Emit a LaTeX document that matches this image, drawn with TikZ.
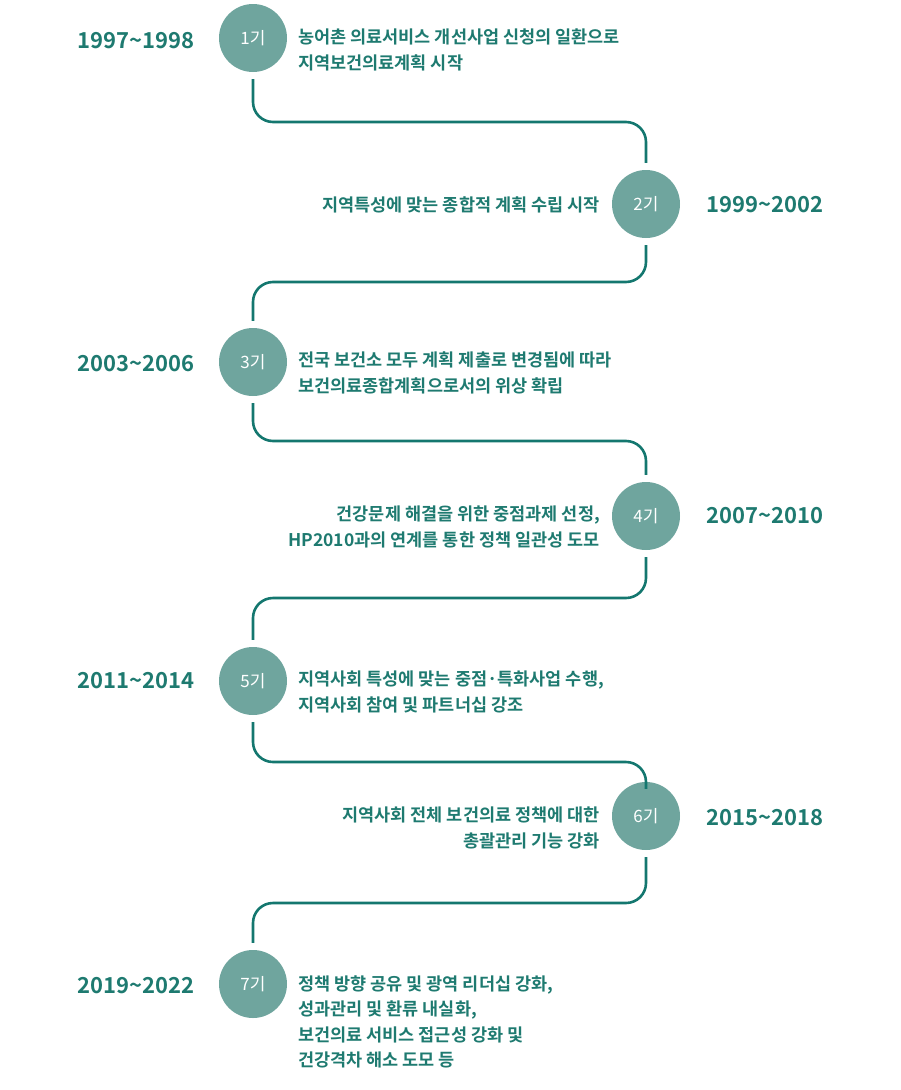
\documentclass[tikz,border=0pt]{standalone}
\usepackage{fontspec}
\setmainfont{Noto Sans CJK KR}[BoldFont={* Bold}]
\definecolor{circ}{HTML}{6FA59E}
\definecolor{ln}{HTML}{14776F}
\definecolor{tx}{HTML}{1E7A70}
\begin{document}
\begin{tikzpicture}[x=1pt,y=-1pt,
  stage/.style={circle,fill=circ,minimum size=68pt,inner sep=0pt,text=white,font=\fontsize{17}{17}\selectfont},
  year/.style={text=tx,font=\bfseries\fontsize{22}{22}\selectfont,inner sep=0pt},
  desc/.style={text=tx,font=\bfseries\fontsize{17.5}{25.5}\selectfont,inner sep=0pt,align=left},
  descr/.style={desc,align=right},
  conn/.style={draw=ln,line width=2.6pt,rounded corners=20pt,shorten >=7pt,shorten <=7pt}]
\useasboundingbox (0,0) rectangle (900,1090);
\node[stage] (s1) at (253,38) {1기};
\node[stage] (s2) at (646,204) {2기};
\node[stage] (s3) at (253,362) {3기};
\node[stage] (s4) at (646,516) {4기};
\node[stage] (s5) at (253,681) {5기};
\node[stage] (s6) at (646,816) {6기};
\node[stage] (s7) at (253,984) {7기};
\node[year,anchor=west] (y1) at (77,41) {1997\char`~1998};
\node[year,anchor=west] (y2) at (706,205) {1999\char`~2002};
\node[year,anchor=west] (y3) at (77,364) {2003\char`~2006};
\node[year,anchor=west] (y4) at (706,516) {2007\char`~2010};
\node[year,anchor=west] (y5) at (77,681) {2011\char`~2014};
\node[year,anchor=west] (y6) at (706,818) {2015\char`~2018};
\node[year,anchor=west] (y7) at (77,986) {2019\char`~2022};
\node[desc,anchor=west] (d1) at (298,50) {농어촌 의료서비스 개선사업 신청의 일환으로\\지역보건의료계획 시작};
\node[descr,anchor=east] (d2) at (600,205) {지역특성에 맞는 종합적 계획 수립 시작};
\node[desc,anchor=west] (d3) at (298,373) {전국 보건소 모두 계획 제출로 변경됨에 따라\\보건의료종합계획으로서의 위상 확립};
\node[descr,anchor=east] (d4) at (600,527) {건강문제 해결을 위한 중점과제 선정,\\HP2010과의 연계를 통한 정책 일관성 도모};
\node[desc,anchor=west] (d5) at (298,692) {지역사회 특성에 맞는 중점·특화사업 수행,\\지역사회 참여 및 파트너십 강조};
\node[descr,anchor=east] (d6) at (600,828) {지역사회 전체 보건의료 정책에 대한\\총괄관리 기능 강화};
\node[desc,anchor=west] (d7) at (298,1022) {정책 방향 공유 및 광역 리더십 강화,\\성과관리 및 환류 내실화,\\보건의료 서비스 접근성 강화 및\\건강격차 해소 도모 등};
\path[conn] (s1.south) -- (253,122) -- (646,122) -- (s2.north);
\path[conn] (s2.south) -- (646,282) -- (253,282) -- (s3.north);
\path[conn] (s3.south) -- (253,441) -- (646,441) -- (s4.north);
\path[conn] (s4.south) -- (646,598) -- (253,598) -- (s5.north);
\path[conn] (s5.south) -- (253,762) -- (646,762) -- (s6.north);
\path[conn] (s6.south) -- (646,903) -- (253,903) -- (s7.north);
\end{tikzpicture}
\end{document}
